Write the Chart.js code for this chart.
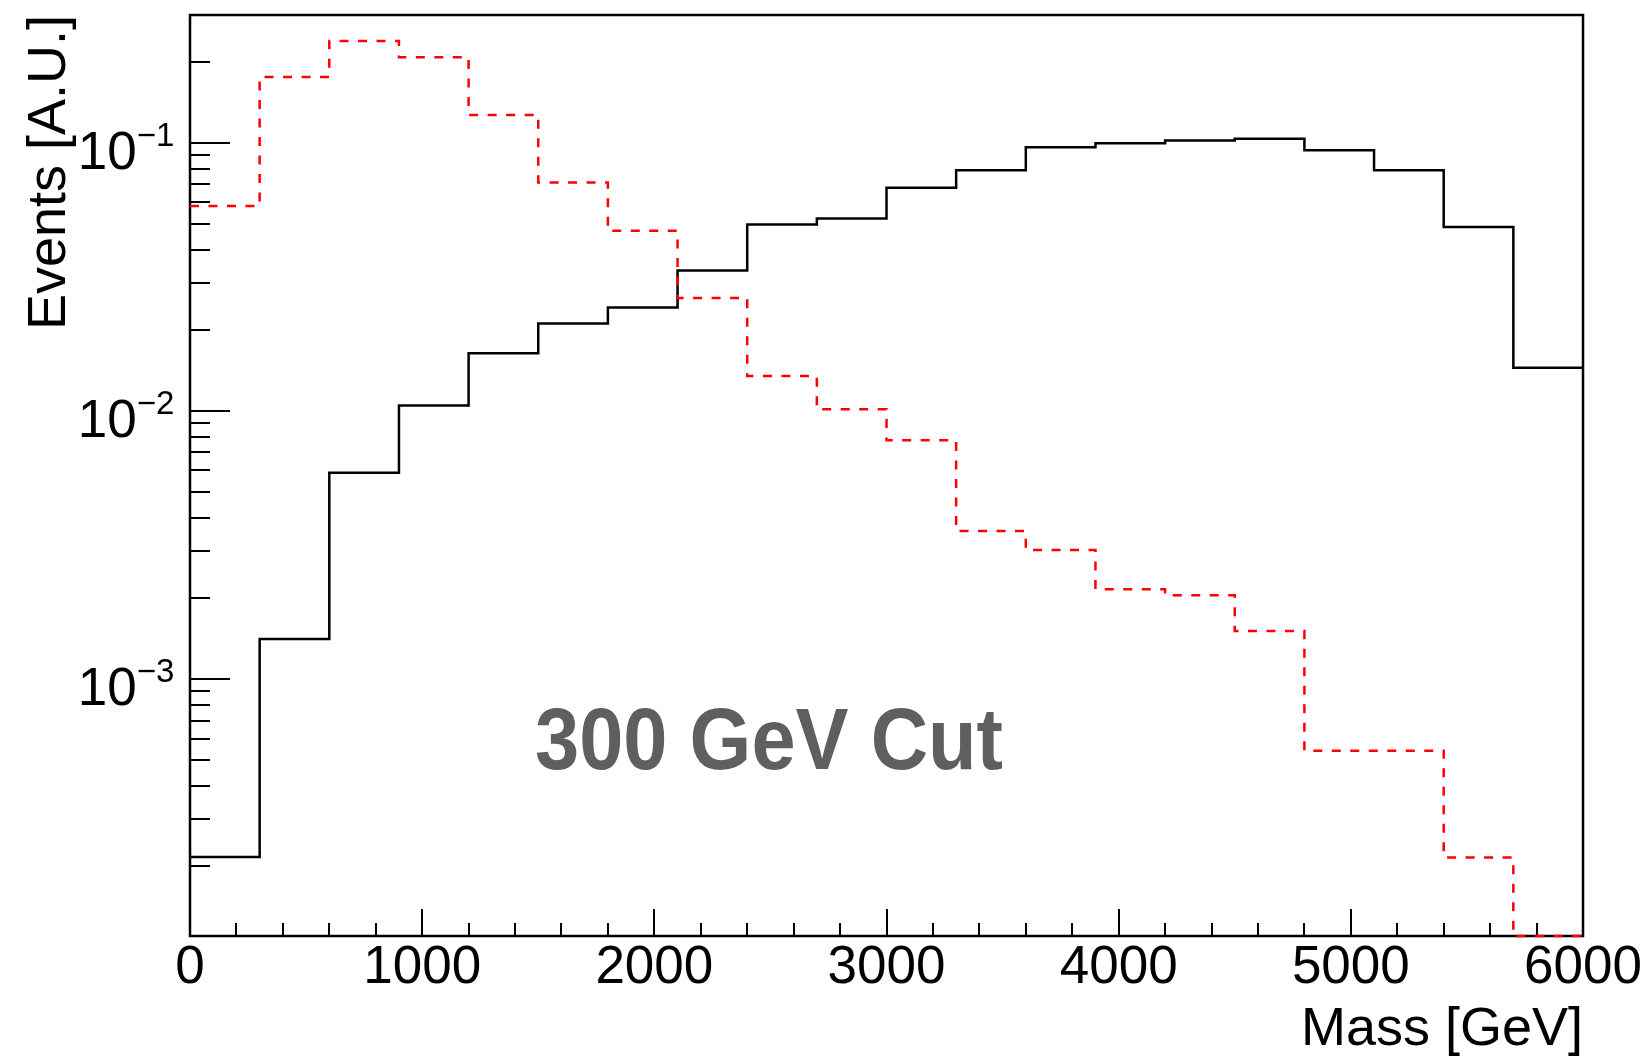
<!DOCTYPE html>
<html><head><meta charset="utf-8">
<script src="https://cdn.jsdelivr.net/npm/chart.js@4.4.0/dist/chart.umd.min.js"></script>
<style>html,body{margin:0;padding:0;background:#fff;} #wrap{width:1650px;height:1063px;}</style>
</head><body><div id="wrap"><canvas id="c" width="1650" height="1063"></canvas></div>
<script>
const binLowEdges = [0,300,600,900,1200,1500,1800,2100,2400,2700,3000,3300,3600,3900,4200,4500,4800,5100,5400,5700];
const binWidth = 300;
const blackSolidValues = [2.17e-4,1.41e-3,5.88e-3,1.047e-2,1.641e-2,2.12e-2,2.43e-2,3.34e-2,4.96e-2,5.22e-2,6.80e-2,7.91e-2,9.64e-2,9.97e-2,1.021e-1,1.036e-1,9.39e-2,7.91e-2,4.86e-2,1.449e-2];
const redDashedValues = [5.82e-2,1.762e-1,2.40e-1,2.087e-1,1.272e-1,7.12e-2,4.70e-2,2.64e-2,1.349e-2,1.014e-2,7.77e-3,3.566e-3,3.03e-3,2.162e-3,2.053e-3,1.51e-3,5.40e-4,5.40e-4,2.16e-4,0];
const xTickValues = [0,1000,2000,3000,4000,5000,6000];
const xTickLabels = ['0','1000','2000','3000','4000','5000','6000'];
const yLabelDecades = [1e-1,1e-2,1e-3];
const yLabelExponents = ['\u22121','\u22122','\u22123'];
const xTitle = 'Mass [GeV]';
const yTitle = 'Events [A.U.]';
const annotationText = '300 GeV Cut';
const xMin = 0, xMax = 6000, yMin = 1.1e-4, yMax = 0.3;

// Histogram outline points; empty/below-range bins are drawn on the frame bottom (as ROOT does)
function histPoints(vals){
  const clamp = v => (v < yMin ? yMin : v);
  const pts = binLowEdges.map((x,i)=>({x:x, y:clamp(vals[i])}));
  pts.push({x: binLowEdges[binLowEdges.length-1]+binWidth, y: clamp(vals[vals.length-1])});
  return pts;
}

Chart.defaults.font.family = '"Liberation Sans", Arial, sans-serif';
Chart.defaults.color = '#000';

const rootStyle = {
  id: 'rootStyle',
  beforeDatasetsDraw(chart){
    const {ctx, chartArea:a, scales:{x,y}} = chart;
    ctx.save();
    ctx.strokeStyle = '#000';
    ctx.lineWidth = 2;
    ctx.beginPath();
    for (let v = xMin + 200; v < xMax; v += 200){
      const px = Math.round(x.getPixelForValue(v));
      const len = (v % 1000 === 0) ? 27 : 13;
      ctx.moveTo(px, a.bottom); ctx.lineTo(px, a.bottom - len);
    }
    for (let e = -4; e <= -1; e++){
      for (let m = 1; m <= 9; m++){
        const v = m * Math.pow(10, e);
        if (v < yMin || v > yMax*0.999) continue;
        const py = Math.round(y.getPixelForValue(v));
        const len = m === 1 ? 40 : 20;
        ctx.moveTo(a.left, py); ctx.lineTo(a.left + len, py);
      }
    }
    ctx.stroke();
    ctx.lineWidth = 2.5;
    ctx.strokeRect(a.left, a.top, a.right - a.left, a.bottom - a.top);
    ctx.restore();
  },
  afterDraw(chart){
    const {ctx, chartArea:a, scales:{y}} = chart;
    ctx.save();
    ctx.fillStyle = '#000';
    ctx.textBaseline = 'alphabetic';
    yLabelDecades.forEach((v,i)=>{
      const py = y.getPixelForValue(v);
      ctx.font = '33px "Liberation Sans"';
      ctx.textAlign = 'left';
      const m = ctx.measureText(yLabelExponents[i]);
      const ex = a.left - 17 - m.actualBoundingBoxRight;
      ctx.fillText(yLabelExponents[i], ex, py + 3);
      ctx.font = '53px "Liberation Sans"';
      ctx.textAlign = 'right';
      ctx.fillText('10', ex, py + 26);
    });
    ctx.font = 'bold 87px "Liberation Sans"';
    ctx.fillStyle = '#5f5f5f';
    ctx.textAlign = 'left';
    ctx.fillText(annotationText, a.left + 345, a.top + 754, 468);
    ctx.restore();
  }
};

new Chart(document.getElementById('c'), {
  type: 'line',
  data: {
    datasets: [
      {label:'dashed', data: histPoints(redDashedValues), borderColor:'#ff0000', borderWidth:2.5, borderDash:[9,9.5], stepped:'before', pointRadius:0, fill:false, clip:5},
      {label:'solid', data: histPoints(blackSolidValues), borderColor:'#000000', borderWidth:2.5, stepped:'before', pointRadius:0, fill:false, clip:5}
    ]
  },
  options: {
    responsive:false, animation:false, devicePixelRatio:1,
    layout:{padding:{top:15,right:67,left:0,bottom:0}},
    plugins:{legend:{display:false}, tooltip:{enabled:false}},
    scales:{
      x:{type:'linear', min:xMin, max:xMax,
        afterBuildTicks(s){ s.ticks = xTickValues.map(v=>({value:v})); },
        ticks:{font:{size:53}, color:'#000', padding:1, maxRotation:0, autoSkip:false,
          callback:(v)=>{ const i = xTickValues.indexOf(v); return i>=0 ? xTickLabels[i] : ''; }},
        grid:{display:false, drawTicks:false}, border:{display:false},
        title:{display:true, text:xTitle, align:'end', font:{size:54}, color:'#000', padding:{top:0,bottom:0}},
        afterFit(s){ s.height = 127; }
      },
      y:{type:'logarithmic', min:yMin, max:yMax,
        ticks:{display:false},
        grid:{display:false, drawTicks:false}, border:{display:false},
        title:{display:true, text:yTitle, align:'end', font:{size:54}, color:'#000', padding:{top:18,bottom:0}},
        afterFit(s){ s.width = 190; }
      }
    }
  },
  plugins:[rootStyle]
});
</script></body></html>
